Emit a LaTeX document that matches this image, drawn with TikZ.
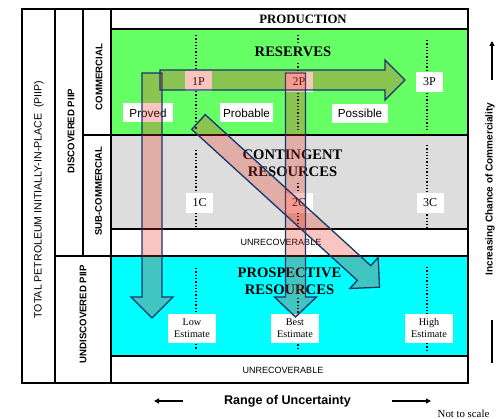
\documentclass[tikz,border=0pt]{standalone}
\usepackage{fontspec}
\setmainfont{Liberation Serif}
\setsansfont{Liberation Sans}
\usetikzlibrary{arrows.meta}
\definecolor{resgreen}{RGB}{102,255,102}
\definecolor{congray}{RGB}{221,221,221}
\definecolor{procyan}{RGB}{0,255,255}
\definecolor{arrowline}{RGB}{20,55,110}
\definecolor{arrowfill}{RGB}{235,50,30}
\begin{document}
\begin{tikzpicture}[x=1pt,y=-1pt,
  frame/.style={draw=black,line width=2pt},
  bigarrow/.style={draw=arrowline,line width=1.3pt,fill=arrowfill,fill opacity=0.28,line join=miter},
  dotline/.style={dotted,line width=1.3pt},
  lab/.style={fill=white,inner sep=0pt,minimum width=27pt,minimum height=20pt,font=\fontsize{12}{12}\selectfont},
  cls/.style={fill=white,inner sep=0pt,minimum height=19pt,font=\sffamily\fontsize{11.7}{12}\selectfont},
  est/.style={fill=white,inner sep=0pt,minimum width=48pt,minimum height=29pt,align=center,font=\fontsize{10.2}{12}\selectfont},
  title/.style={font=\bfseries\fontsize{14.6}{17}\selectfont,align=center,inner sep=0pt},
  side/.style={font=\sffamily\bfseries\fontsize{9.6}{10}\selectfont,rotate=90,inner sep=0pt},
  unrec/.style={font=\sffamily\fontsize{9}{9}\selectfont,inner sep=0pt},
  smallarrow/.style={line width=1.3pt,-{Triangle[length=5pt,width=5pt]}}
]
\fill[white] (0,0) rectangle (502,419);
\useasboundingbox (0,0) rectangle (502,419);
% region fills
\fill[resgreen] (111,29) rectangle (468,135);
\fill[congray] (111,135) rectangle (468,229);
\fill[procyan] (111,256) rectangle (468,356);
% grid lines
\draw[frame] (55,9) -- (55,383);
\draw[frame] (83,9) -- (83,256);
\draw[frame] (111,9) -- (111,383);
\draw[frame] (111,29) -- (468,29);
\draw[frame] (83,135) -- (468,135);
\draw[frame] (111,229) -- (468,229);
\draw[frame] (55,256) -- (468,256);
\draw[frame] (111,356) -- (468,356);
\draw[frame,line width=2.4pt] (22,9) rectangle (468,383);
% dotted lines
\draw[dotline] (196,35) -- (196,130);
\draw[dotline] (196,150) -- (196,228);
\draw[dotline] (196,268) -- (196,350);
\draw[dotline] (298,35) -- (298,43);
\draw[dotline] (298,63) -- (298,130);
\draw[dotline] (298,183) -- (298,228);
\draw[dotline] (298,298) -- (298,350);
\draw[dotline] (427,40) -- (427,130);
\draw[dotline] (427,145) -- (427,228);
\draw[dotline] (427,267) -- (427,350);
% titles
\node[title,font=\bfseries\fontsize{12.8}{13}\selectfont] (prod) at (303,19) {PRODUCTION};
\node[title] (res) at (293,52) {RESERVES};
\node[title] (cont) at (292.5,163.5) {CONTINGENT\\RESOURCES};
\node[title] (pros) at (289.5,281.5) {PROSPECTIVE\\RESOURCES};
\node[unrec] (unr1) at (281,242.5) {UNRECOVERABLE};
\node[unrec] (unr2) at (283,370) {UNRECOVERABLE};
% labels
\node[lab] (p1) at (198.5,81.5) {1P};
\node[lab] (p2) at (299,82) {2P};
\node[lab] (p3) at (429.5,82) {3P};
\node[lab] (c1) at (199.5,203) {1C};
\node[lab] (c2) at (299,203) {2C};
\node[lab] (c3) at (430,203) {3C};
\node[cls,minimum width=50pt] (prv) at (148,113) {Proved};
\node[cls,minimum width=53pt] (prb) at (246.5,113) {Probable};
\node[cls,minimum width=56pt] (pos) at (360,113.5) {Possible};
\node[est] (low) at (192,328.5) {Low\\Estimate};
\node[est] (best) at (295,328) {Best\\Estimate};
\node[est] (high) at (429,328) {High\\Estimate};
% side labels
\node[side,font=\sffamily\fontsize{10.6}{11}\selectfont] (tot) at (39,199.5) {TOTAL PETROLEUM INITIALLY-IN-PLACE\ \ (PIIP)};
\node[side] (disc) at (71,131) {DISCOVERED PIIP};
\node[side] (comm) at (99,77) {COMMERCIAL};
\node[side] (sub) at (98.5,191) {SUB-COMMERCIAL};
\node[side] (und) at (83,314) {UNDISCOVERED PIIP};
% big arrows
\draw[bigarrow] (142,73) -- (162,73) -- (162,297) -- (173,297) -- (152,318) -- (131,297) -- (142,297) -- cycle;
\draw[bigarrow] (285.5,73) -- (305.5,73) -- (305.5,297) -- (316.5,297) -- (295.5,317) -- (274.5,297) -- (285.5,297) -- cycle;
\draw[bigarrow] (160,70) -- (385,70) -- (385,60) -- (405,80) -- (385,100) -- (385,90) -- (160,90) -- cycle;
\draw[bigarrow] (205.2,114.6) -- (370.7,265.6) -- (378.2,257.5) -- (379.5,287.2) -- (349.8,288.5) -- (357.3,280.4) -- (191.8,129.4) -- cycle;
% axes
\node[font=\sffamily\bfseries\fontsize{10}{10}\selectfont,rotate=90,inner sep=0pt] (inc) at (490,189) {Increasing Chance of Commerciality};
\coordinate (upS) at (492,80);
\coordinate (upE) at (492,41);
\draw[smallarrow] (upS) -- (upE);
\coordinate (dnS) at (492,320);
\coordinate (dnE) at (492,363);
\draw[line width=1.3pt] (dnS) -- (dnE);
\node[font=\sffamily\bfseries\fontsize{12.6}{13}\selectfont,inner sep=0pt] (rng) at (287.5,401) {Range of Uncertainty};
\coordinate (lS) at (183,401);
\coordinate (lE) at (154,401);
\draw[smallarrow] (lS) -- (lE);
\coordinate (rS) at (392,401);
\coordinate (rE) at (431,401);
\draw[smallarrow] (rS) -- (rE);
\node[font=\fontsize{10.8}{11}\selectfont,inner sep=0pt] (nts) at (463.5,413.5) {Not to scale};
\end{tikzpicture}
\end{document}
